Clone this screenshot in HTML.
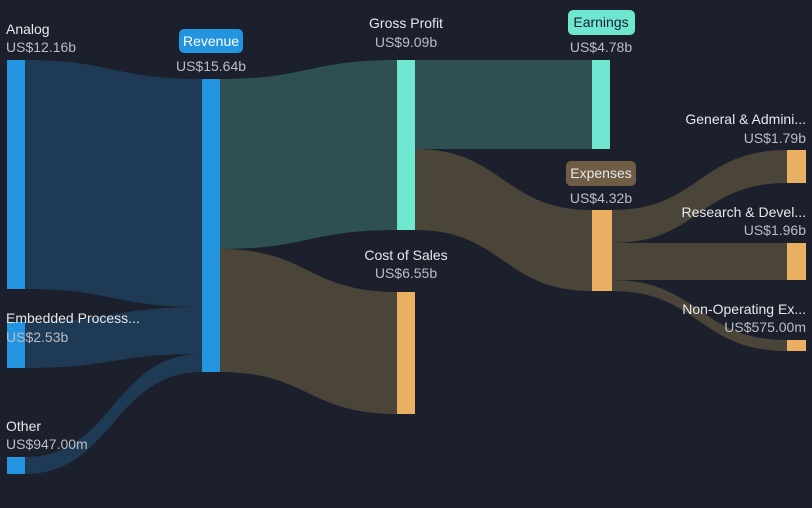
<!DOCTYPE html><html><head><style>
body{margin:0;background:#1b202c;width:812px;height:503px;overflow:hidden;font-family:"Liberation Sans",sans-serif}
svg text{font-family:"Liberation Sans",sans-serif;font-size:14px}
.l{fill:#e6e8ec}.v{fill:#b9bdc6}
</style></head><body>
<svg width="812" height="503" xmlns="http://www.w3.org/2000/svg">
<rect width="812" height="503" fill="#1b202c"/>
<path d="M25 60 C113 60,113 79,202 79 L202 307 C113 307,113 289,25 289Z" fill="#1e3a54"/>
<path d="M25 322 C113 322,113 307,202 307 L202 354 C113 354,113 368,25 368Z" fill="#1e3a54"/>
<path d="M25 457 C113 457,113 354,202 354 L202 372 C113 372,113 474,25 474Z" fill="#1e3a54"/>
<path d="M220 79 C308 79,308 60,397 60 L397 230 C308 230,308 249,220 249Z" fill="#2e5055"/>
<path d="M220 249 C308 249,308 292,397 292 L397 414 C308 414,308 372,220 372Z" fill="#4a4439"/>
<path d="M415 60 C503 60,503 60,592 60 L592 149 C503 149,503 149,415 149Z" fill="#2e5055"/>
<path d="M415 149 C503 149,503 210,592 210 L592 291 C503 291,503 230,415 230Z" fill="#4a4439"/>
<path d="M612 210 C699 210,699 150,787 150 L787 183 C699 183,699 243,612 243Z" fill="#4a4439"/>
<path d="M612 243 C699 243,699 243,787 243 L787 280 C699 280,699 280,612 280Z" fill="#4a4439"/>
<path d="M612 280 C699 280,699 340,787 340 L787 351 C699 351,699 291,612 291Z" fill="#4a4439"/>
<rect x="7" y="60" width="18" height="229" fill="#2394e0"/>
<rect x="7" y="322" width="18" height="46" fill="#2394e0"/>
<rect x="7" y="457" width="18" height="17" fill="#2394e0"/>
<rect x="202" y="79" width="18" height="293" fill="#2394e0"/>
<rect x="397" y="60" width="18" height="170" fill="#6ee6d0"/>
<rect x="397" y="292" width="18" height="122" fill="#e8b060"/>
<rect x="592" y="60" width="18" height="89" fill="#6ee6d0"/>
<rect x="592" y="210" width="20" height="81" fill="#e8b060"/>
<rect x="787" y="150" width="19" height="33" fill="#e8b060"/>
<rect x="787" y="243" width="19" height="37" fill="#e8b060"/>
<rect x="787" y="340" width="19" height="11" fill="#e8b060"/>
<text x="6" y="34" class="l">Analog</text><text x="6" y="52" class="v">US$12.16b</text>
<text x="6" y="323" class="l">Embedded Process...</text><text x="6" y="342" class="v">US$2.53b</text>
<text x="6" y="431" class="l">Other</text><text x="6" y="449" class="v">US$947.00m</text>
<rect x="179" y="29" width="64" height="24" rx="5" fill="#2394e0"/>
<text x="211" y="46" text-anchor="middle" fill="#fff">Revenue</text>
<text x="211" y="71" class="v" text-anchor="middle">US$15.64b</text>
<text x="406" y="28" class="l" text-anchor="middle">Gross Profit</text><text x="406" y="47" class="v" text-anchor="middle">US$9.09b</text>
<text x="406" y="260" class="l" text-anchor="middle">Cost of Sales</text><text x="406" y="278" class="v" text-anchor="middle">US$6.55b</text>
<rect x="568" y="10" width="67" height="25" rx="5" fill="#6ee6d0"/>
<text x="601" y="27" text-anchor="middle" fill="#1b202c">Earnings</text>
<text x="601" y="52" class="v" text-anchor="middle">US$4.78b</text>
<rect x="566" y="161" width="70" height="25" rx="5" fill="#6e5c44"/>
<text x="601" y="178" class="l" text-anchor="middle">Expenses</text>
<text x="601" y="203" class="v" text-anchor="middle">US$4.32b</text>
<text x="806" y="124" class="l" text-anchor="end">General &amp; Admini...</text><text x="806" y="143" class="v" text-anchor="end">US$1.79b</text>
<text x="806" y="217" class="l" text-anchor="end">Research &amp; Devel...</text><text x="806" y="235" class="v" text-anchor="end">US$1.96b</text>
<text x="806" y="314" class="l" text-anchor="end">Non-Operating Ex...</text><text x="806" y="332" class="v" text-anchor="end">US$575.00m</text>
</svg>
</body></html>
